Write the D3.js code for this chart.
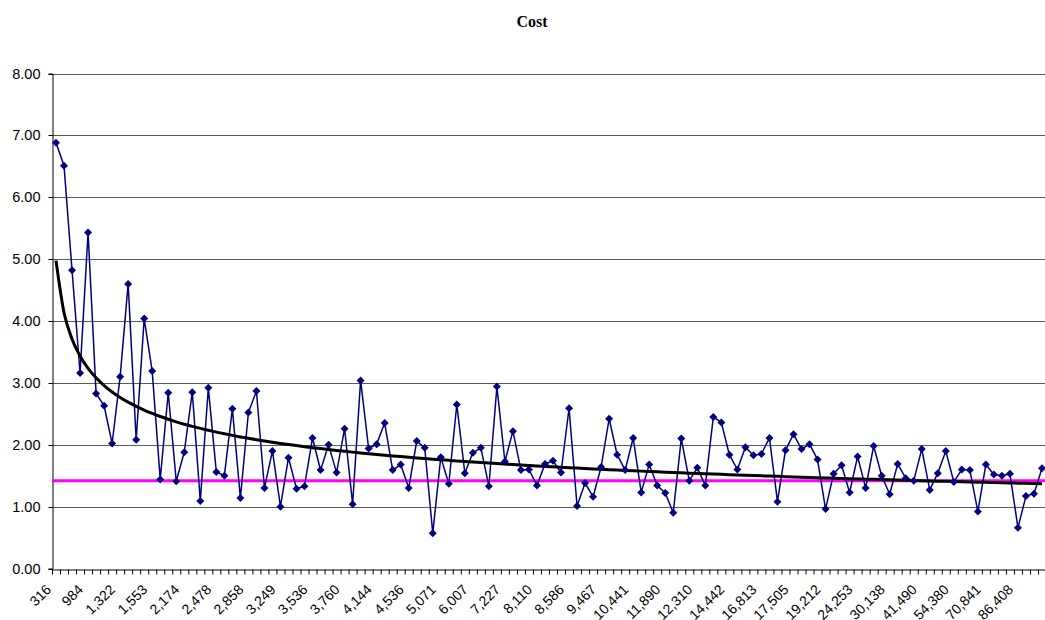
<!DOCTYPE html>
<html>
<head>
<meta charset="utf-8">
<script src="https://cdn.jsdelivr.net/npm/d3@7"></script>
<style>
  html, body { margin: 0; padding: 0; background: #fff; }
  svg { display: block; }
</style>
</head>
<body>
<svg id="chart" width="1045" height="620"></svg>
<script>
// ---- data ----
const title = "Cost";
const values = [
  6.88, 6.51, 4.82, 3.16, 5.43, 2.83, 2.63, 2.02, 3.10, 4.60,
  2.08, 4.04, 3.19, 1.44, 2.84, 1.41, 1.88, 2.85, 1.09, 2.92,
  1.56, 1.50, 2.58, 1.14, 2.52, 2.87, 1.30, 1.90, 1.00, 1.79,
  1.29, 1.33, 2.11, 1.59, 2.00, 1.55, 2.26, 1.04, 3.04, 1.94,
  2.01, 2.35, 1.59, 1.68, 1.30, 2.06, 1.95, 0.57, 1.80, 1.37,
  2.65, 1.54, 1.87, 1.95, 1.33, 2.94, 1.73, 2.22, 1.59, 1.60,
  1.34, 1.69, 1.74, 1.55, 2.59, 1.01, 1.38, 1.16, 1.64, 2.42,
  1.84, 1.59, 2.11, 1.23, 1.68, 1.34, 1.22, 0.90, 2.10, 1.42,
  1.63, 1.34, 2.45, 2.36, 1.84, 1.60, 1.96, 1.83, 1.85, 2.11,
  1.08, 1.91, 2.17, 1.93, 2.01, 1.76, 0.96, 1.53, 1.67, 1.23,
  1.81, 1.30, 1.98, 1.50, 1.20, 1.69, 1.46, 1.42, 1.93, 1.27,
  1.54, 1.90, 1.40, 1.60, 1.59, 0.92, 1.68, 1.52, 1.50, 1.53,
  0.66, 1.17, 1.21, 1.62
];
// category labels shown on the axis (every 4th category)
const tickLabels = [
  "316", "984", "1,322", "1,553", "2,174", "2,478", "2,858", "3,249",
  "3,536", "3,760", "4,144", "4,536", "5,071", "6,007", "7,227", "8,110",
  "8,586", "9,467", "10,441", "11,890", "12,310", "14,442", "16,813", "17,505",
  "19,212", "24,253", "30,138", "41,490", "54,380", "70,841", "86,408"
];
const labelEvery = 4;
const categories = values.map((v, i) => i % labelEvery === 0 ? tickLabels[i / labelEvery] : "");
const targetValue = 1.42;
const yTicks = [0, 1, 2, 3, 4, 5, 6, 7, 8];

// ---- layout ----
const svg = d3.select("#chart");
const pL = 52, pR = 1046, pT = 73.5, pB = 568.5;
const n = values.length;

const x = d3.scaleBand().domain(d3.range(n)).range([pL, pR]).padding(0);
const xEdge = d3.scaleLinear().domain([0, n]).range([pL, pR]);
const y = d3.scaleLinear().domain([0, 8]).range([pB, pT]);
const cx = i => x(i) + x.bandwidth() / 2;

// title
svg.append("text")
  .attr("x", 532).attr("y", 27)
  .attr("text-anchor", "middle")
  .style("font-family", "'Liberation Serif', 'Times New Roman', serif")
  .style("font-weight", "bold")
  .style("font-size", "16px")
  .text(title);

// gridlines
svg.append("g").selectAll("line").data(yTicks.filter(d => d > 0)).join("line")
  .attr("x1", pL).attr("x2", pR)
  .attr("y1", d => Math.round(y(d)) + 0.5).attr("y2", d => Math.round(y(d)) + 0.5)
  .attr("stroke", "#5a5a5a").attr("stroke-width", 1);

// y axis
const yAxis = d3.axisLeft(y).tickValues(yTicks).tickFormat(d3.format(".2f")).tickSize(4).tickPadding(8);
const gy = svg.append("g").attr("transform", `translate(${pL + 0.5},0)`).call(yAxis);
gy.select(".domain").attr("stroke", "#000");
gy.selectAll(".tick line").attr("stroke", "#000");
gy.selectAll(".tick text")
  .style("font-family", "'Liberation Sans', Arial, sans-serif")
  .style("font-size", "14.5px")
  .attr("fill", "#000");
gy.selectAll(".tick").attr("transform", d => `translate(0,${Math.round(y(d)) + 0.5})`);

// x axis (ticks at category boundaries)
const xAxis = d3.axisBottom(xEdge).tickValues(d3.range(n + 1)).tickFormat("").tickSizeInner(5).tickSizeOuter(0);
const gx = svg.append("g").attr("transform", `translate(0,${Math.round(pB) + 0.5})`).call(xAxis);
gx.select(".domain").attr("stroke", "#000");
gx.selectAll(".tick line").attr("stroke", "#000");

// x labels
svg.append("g").selectAll("text")
  .data(d3.range(n).filter(i => categories[i] !== ""))
  .join("text")
  .attr("transform", i => `translate(${cx(i) - 4},${pB + 22}) rotate(-45)`)
  .attr("text-anchor", "end")
  .style("font-family", "'Liberation Sans', Arial, sans-serif")
  .style("font-size", "14px")
  .attr("fill", "#000")
  .text(i => categories[i]);

// target line
svg.append("line")
  .attr("x1", pL).attr("x2", pR)
  .attr("y1", y(targetValue)).attr("y2", y(targetValue))
  .attr("stroke", "#ff00ff").attr("stroke-width", 3);

// data series
svg.append("path")
  .datum(values)
  .attr("fill", "none")
  .attr("stroke", "#000080")
  .attr("stroke-width", 1.5)
  .attr("d", d3.line().x((d, i) => cx(i)).y(d => y(d)));

// power trendline fitted on the data: ln(y) = ln(a) + b ln(k), k = 1..n
const lx = values.map((v, i) => Math.log(i + 1));
const ly = values.map(v => Math.log(v));
const mx = d3.mean(lx), my = d3.mean(ly);
const b = d3.sum(lx, (v, i) => (v - mx) * (ly[i] - my)) / d3.sum(lx, v => (v - mx) * (v - mx));
const a = Math.exp(my - b * mx);
const trend = values.map((v, i) => a * Math.pow(i + 1, b));
svg.append("path")
  .datum(trend)
  .attr("fill", "none")
  .attr("stroke", "#000")
  .attr("stroke-width", 3)
  .attr("d", d3.line().curve(d3.curveMonotoneX).x((d, i) => cx(i)).y(d => y(d)));

// markers
svg.append("g").selectAll("path")
  .data(values)
  .join("path")
  .attr("transform", (d, i) => `translate(${cx(i)},${y(d)}) rotate(45)`)
  .attr("d", d3.symbol(d3.symbolSquare, 32))
  .attr("fill", "#000080");
</script>
</body>
</html>
